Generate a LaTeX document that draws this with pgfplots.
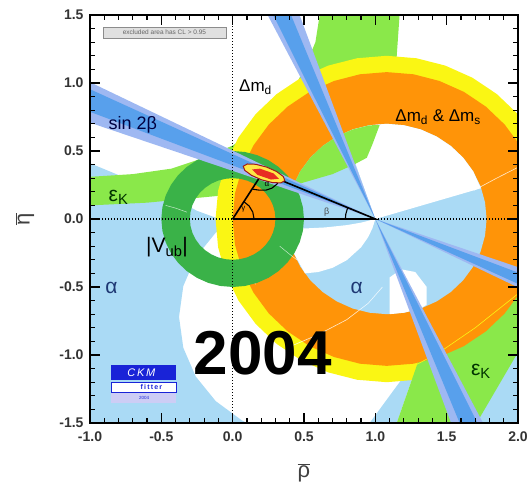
\documentclass[border=0pt]{standalone}
\usepackage{fontspec}
\setmainfont{Liberation Sans}
\usepackage{pgfplots}
\pgfplotsset{compat=1.18}
\definecolor{cLB}{RGB}{170,218,245}
\definecolor{cLG}{RGB}{138,232,74}
\definecolor{cDG}{RGB}{58,178,72}
\definecolor{cY}{RGB}{250,246,20}
\definecolor{cO}{RGB}{255,148,8}
\definecolor{cB1}{RGB}{158,184,242}
\definecolor{cB2}{RGB}{88,160,236}
\definecolor{cFitY}{RGB}{255,232,70}
\definecolor{cFitR}{RGB}{232,45,35}
\definecolor{cFitD}{RGB}{160,25,25}
\definecolor{cLogo}{RGB}{25,35,215}
\definecolor{cLav}{RGB}{205,205,245}
\definecolor{cTxtA}{RGB}{30,55,115}
\begin{document}
\begin{tikzpicture}
\begin{axis}[
  scale only axis, width=428pt, height=408pt,
  xmin=-1, xmax=2, ymin=-1.5, ymax=1.5,
  axis on top,
  xtick={-1,-0.5,0,0.5,1,1.5,2},
  xticklabels={-1.0,-0.5,0.0,0.5,1.0,1.5,2.0},
  ytick={-1.5,-1,-0.5,0,0.5,1,1.5},
  yticklabels={-1.5,-1.0,-0.5,0.0,0.5,1.0,1.5},
  minor tick num=4,
  tick align=inside,
  major tick length=10pt, minor tick length=5pt,
  every tick/.style={black, line width=1.2pt},
  axis line style={line width=1.8pt},
  tick label style={font=\fontsize{14}{14}\selectfont\bfseries, text=black!80},
  xticklabel style={yshift=-5pt},
  yticklabel style={xshift=-3pt},
  label style={font=\fontsize{22}{22}\selectfont, text=black!75},
  xlabel={$\overline{\hbox{ρ}}$},
  ylabel={$\overline{\hbox{η}}$},
  xlabel style={at={(axis description cs:0.5,-0.122)}, anchor=center},
  ylabel style={at={(axis description cs:-0.152,0.5)}, anchor=center},
]
% ---- alpha (light blue) underlay
\addplot[fill=cLB, draw=none] coordinates {(-1,-1.5) (-1,0.41) (-0.77,0.31) (-0.5,0.2) (-0.25,0.06) (-0.12,0.01) (0,0) (-0.119,-0.101) (-0.259,-0.282) (-0.346,-0.493) (-0.376,-0.72) (-0.346,-0.947) (-0.259,-1.158) (-0.119,-1.339) (0.062,-1.479) (0.101,-1.5)} -- cycle;
\addplot[fill=cLB, draw=none] coordinates {(0.96,-1.5) (1.15,-1.5) (1.35,-0.9) (1.24,-1.1)} -- cycle;
\addplot[fill=cLB, draw=none] coordinates {(1.71,-1.5) (2.05,-1.5) (2.05,-0.89) (2,-0.89)} -- cycle;
% ---- epsilon_K upper band
\addplot[fill=cLG, draw=none] coordinates {(-1,0.31) (-0.7,0.33) (-0.43,0.37) (-0.2,0.45) (0,0.54) (0.2,0.68) (0.4,0.9) (0.5,1.1) (0.58,1.3) (0.61,1.5) (1.17,1.5) (1.15,1.2) (1.1,0.9) (1.03,0.68) (0.96,0.5) (0.94,0.43) (0.7,0.33) (0.47,0.26) (0.2,0.2) (-0.2,0.16) (-0.6,0.12) (-1,0.10)} -- cycle;
% ---- Delta m_d (yellow disc)
\addplot[fill=cY, draw=none] coordinates {(2.28,0) (2.262,0.208) (2.208,0.410) (2.119,0.600) (1.999,0.771) (1.851,0.919) (1.68,1.039) (1.49,1.128) (1.288,1.182) (1.08,1.2) (0.872,1.182) (0.67,1.128) (0.48,1.039) (0.309,0.919) (0.161,0.771) (0.041,0.600) (-0.048,0.410) (-0.102,0.208) (-0.12,0) (-0.102,-0.208) (-0.048,-0.410) (0.041,-0.600) (0.161,-0.771) (0.309,-0.919) (0.48,-1.039) (0.67,-1.128) (0.872,-1.182) (1.08,-1.2) (1.288,-1.182) (1.49,-1.128) (1.68,-1.039) (1.851,-0.919) (1.999,-0.771) (2.119,-0.600) (2.208,-0.410) (2.262,-0.208)} -- cycle;
% ---- epsilon_K lower right branch
\addplot[fill=cLG, draw=none] coordinates {(1.15,-1.5) (1.71,-1.5) (2.05,-0.89) (2.05,-0.4) (1.35,-0.9)} -- cycle;
% ---- Delta m_d & Delta m_s (orange disc)
\addplot[fill=cO, draw=none] coordinates {(2.16,0) (2.144,0.188) (2.095,0.369) (2.015,0.540) (1.907,0.694) (1.774,0.827) (1.62,0.935) (1.449,1.015) (1.268,1.064) (1.08,1.08) (0.892,1.064) (0.711,1.015) (0.54,0.935) (0.386,0.827) (0.253,0.694) (0.145,0.540) (0.065,0.369) (0.016,0.188) (0,0) (0.016,-0.188) (0.065,-0.369) (0.145,-0.540) (0.253,-0.694) (0.386,-0.827) (0.54,-0.935) (0.711,-1.015) (0.892,-1.064) (1.08,-1.08) (1.268,-1.064) (1.449,-1.015) (1.62,-0.935) (1.774,-0.827) (1.907,-0.694) (2.015,-0.540) (2.095,-0.369) (2.144,-0.188)} -- cycle;
% ---- interior of the ring (alpha, light blue)
\addplot[fill=cLB, draw=none] coordinates {(1.78,0) (1.769,0.122) (1.738,0.239) (1.686,0.35) (1.616,0.45) (1.53,0.536) (1.43,0.606) (1.319,0.658) (1.202,0.689) (1.08,0.7) (0.958,0.689) (0.841,0.658) (0.73,0.606) (0.63,0.536) (0.544,0.45) (0.474,0.35) (0.422,0.239) (0.391,0.122) (0.38,0) (0.391,-0.122) (0.422,-0.239) (0.474,-0.35) (0.544,-0.45) (0.63,-0.536) (0.73,-0.606) (0.841,-0.658) (0.958,-0.689) (1.08,-0.7) (1.202,-0.689) (1.319,-0.658) (1.43,-0.606) (1.53,-0.536) (1.616,-0.45) (1.686,-0.35) (1.738,-0.239) (1.769,-0.122)} -- cycle;
% ---- white (excluded) parts inside
\addplot[fill=white, draw=none] coordinates {(1,0) (1.74,0.226) (1.686,0.35) (1.616,0.45) (1.53,0.536) (1.43,0.606) (1.319,0.658) (1.202,0.689) (1.08,0.7) (0.958,0.689) (0.841,0.658) (0.785,0.63)} -- cycle;
\addplot[fill=white, draw=none] coordinates {(0.383,-0.061) (0.5,-0.07) (0.65,-0.062) (0.8,-0.045) (0.9,-0.027) (1.0,0.0) (0.98,-0.067) (0.95,-0.133) (0.9,-0.208) (0.8,-0.303) (0.7,-0.359) (0.6,-0.390) (0.507,-0.40) (0.422,-0.239) (0.391,-0.122)} -- cycle;
\addplot[fill=white, draw=none] coordinates {(1.1,-0.43) (1.18,-0.37) (1.28,-0.39) (1.36,-0.5) (1.36,-0.63) (1.319,-0.658) (1.202,-0.689) (1.1,-0.7)} -- cycle;
% ---- epsilon_K inside the ring
\addplot[fill=cLG, draw=none] coordinates {(0.422,0.239) (0.47,0.26) (0.7,0.33) (0.85,0.40) (0.94,0.45) (0.98,0.55) (1.03,0.69) (0.958,0.689) (0.841,0.658) (0.73,0.606) (0.63,0.536) (0.544,0.45) (0.474,0.35)} -- cycle;
% ---- thin contour lines
\addplot[white, line width=0.6pt, opacity=0.8] coordinates {(0.42,-0.93) (0.6,-0.85) (0.8,-0.74) (0.95,-0.62) (1.05,-0.5)};
\addplot[white, line width=0.6pt, opacity=0.8] coordinates {(1.69,0.21) (1.85,0.3) (2,0.38)};
\addplot[cY, line width=0.6pt] coordinates {(1.2,-1.12) (1.45,-0.98) (1.7,-0.8) (2,-0.55)};
\addplot[white, line width=0.5pt, opacity=0.8] coordinates {(-0.42,-0.05) (-0.35,-0.12) (-0.28,-0.18)};
\addplot[white, line width=0.5pt, opacity=0.8] coordinates {(0.08,-0.3) (0.12,-0.4) (0.16,-0.48)};
% ---- |V_ub| ring
\addplot[fill=cDG, draw=none] coordinates {(0,0.5) (-0.0868,0.4924) (-0.171,0.4698) (-0.25,0.433) (-0.3214,0.383) (-0.383,0.3214) (-0.433,0.25) (-0.4698,0.171) (-0.4924,0.0868) (-0.5,0) (-0.4924,-0.0868) (-0.4698,-0.171) (-0.433,-0.25) (-0.383,-0.3214) (-0.3214,-0.383) (-0.25,-0.433) (-0.171,-0.4698) (-0.0868,-0.4924) (0,-0.5) (0.0868,-0.4924) (0.171,-0.4698) (0.25,-0.433) (0.3214,-0.383) (0.383,-0.3214) (0.433,-0.25) (0.4698,-0.171) (0.4924,-0.0868) (0.5,0) (0.4924,0.0868) (0.4698,0.171) (0.433,0.25) (0.383,0.3214) (0.3214,0.383) (0.25,0.433) (0.171,0.4698) (0.0868,0.4924) (0,0.5) (0,0.3) (0.0521,0.2954) (0.1026,0.2819) (0.15,0.2598) (0.1928,0.2298) (0.2298,0.1928) (0.2598,0.15) (0.2819,0.1026) (0.2954,0.0521) (0.3,0) (0.2954,-0.0521) (0.2819,-0.1026) (0.2598,-0.15) (0.2298,-0.1928) (0.1928,-0.2298) (0.15,-0.2598) (0.1026,-0.2819) (0.0521,-0.2954) (0,-0.3) (-0.0521,-0.2954) (-0.1026,-0.2819) (-0.15,-0.2598) (-0.1928,-0.2298) (-0.2298,-0.1928) (-0.2598,-0.15) (-0.2819,-0.1026) (-0.2954,-0.0521) (-0.3,0) (-0.2954,0.0521) (-0.2819,0.1026) (-0.2598,0.15) (-0.2298,0.1928) (-0.1928,0.2298) (-0.15,0.2598) (-0.1026,0.2819) (-0.0521,0.2954) (0,0.3)} -- cycle;
\addplot[white, line width=0.5pt, opacity=0.7] coordinates {(-0.47,0.1) (-0.4,0.08) (-0.32,0.05)};
\addplot[white, line width=0.5pt, opacity=0.7] coordinates {(0.33,-0.2) (0.4,-0.26) (0.45,-0.3)};
% ---- sin 2beta wedges
\addplot[fill=cB1, draw=none] coordinates {(1,0) (-1,1.006) (-1,0.708) (1,0) (2,-0.354) (2,-0.503)} -- cycle;
\addplot[fill=cB2, draw=none] coordinates {(1,0) (-1,0.954) (-1,0.788) (1,0) (2,-0.394) (2,-0.477)} -- cycle;
\addplot[fill=cB1, draw=none] coordinates {(1,0) (0.245,1.5) (0.469,1.5) (1,0) (1.531,-1.5) (1.755,-1.5)} -- cycle;
\addplot[fill=cB2, draw=none] coordinates {(1,0) (0.284,1.5) (0.409,1.5) (1,0) (1.591,-1.5) (1.716,-1.5)} -- cycle;
% ---- dotted axes and triangle
\addplot[black, line width=1.4pt, dash pattern=on 1.4pt off 1.6pt] coordinates {(0,-1.5) (0,1.5)};
\addplot[black, line width=1.4pt, dash pattern=on 1.4pt off 1.6pt] coordinates {(-1,0) (2,0)};
\addplot[black, line width=1.6pt] coordinates {(0,0) (1,0) (0.21,0.34) (0,0)};
\addplot[black, line width=1.1pt] coordinates {(0.15,0) (0.141,0.051) (0.115,0.096) (0.079,0.127)};
\addplot[black, line width=1.1pt] coordinates {(0.14,0.219) (0.187,0.212) (0.233,0.212) (0.275,0.227) (0.31,0.256) (0.33,0.289)};
\addplot[black, line width=1.1pt] coordinates {(0.79,0) (0.793,0.036) (0.803,0.072) (0.807,0.083)};
% ---- fit result
\addplot[fill=cFitY, draw=cFitD, line width=1pt] coordinates {(0.3657,0.282) (0.3548,0.3126) (0.3077,0.3492) (0.2371,0.382) (0.1619,0.4022) (0.1024,0.4044) (0.0743,0.388) (0.0852,0.3574) (0.1323,0.3208) (0.2029,0.288) (0.2781,0.2678) (0.3376,0.2656)} -- cycle;
\addplot[fill=cFitR, draw=none] coordinates {(0.324,0.2958) (0.2853,0.3357) (0.1913,0.3699) (0.136,0.3642) (0.1747,0.3243) (0.2687,0.2901)} -- cycle;
% ---- labels
\node[font=\fontsize{8}{8}\selectfont] at (axis cs:0.075,0.07) {γ};
\node[font=\fontsize{8}{8}\selectfont] at (axis cs:0.24,0.255) {α};
\node[font=\fontsize{9}{9}\selectfont, text=black!70] at (axis cs:0.66,0.05) {β};
\node[font=\fontsize{17}{17}\selectfont] at (axis cs:0.16,0.97) {Δm\textsubscript{d}};
\node[font=\fontsize{17}{17}\selectfont] at (axis cs:1.44,0.75) {Δm\textsubscript{d} \& Δm\textsubscript{s}};
\node[font=\fontsize{18}{18}\selectfont, text=black!75!blue] at (axis cs:-0.7,0.69) {sin 2β};
\node[font=\fontsize{21}{21}\selectfont, text=black!80!green] at (axis cs:-0.8,0.16) {ε\textsubscript{K}};
\node[font=\fontsize{21}{21}\selectfont, text=black!80!green] at (axis cs:1.74,-1.12) {ε\textsubscript{K}};
\node[font=\fontsize{21}{21}\selectfont] at (axis cs:-0.46,-0.21) {|V\textsubscript{ub}|};
\node[font=\fontsize{21}{21}\selectfont, text=cTxtA] at (axis cs:-0.85,-0.51) {α};
\node[font=\fontsize{21}{21}\selectfont, text=cTxtA] at (axis cs:0.87,-0.51) {α};
\node[font=\fontsize{62}{62}\selectfont\bfseries] at (axis cs:0.21,-0.99) {2004};
\node[draw=black!45, fill=black!12, line width=0.6pt, minimum width=123pt, minimum height=11pt, inner sep=0pt, font=\fontsize{6.5}{7}\selectfont, text=black!60] at (axis cs:-0.478,1.37) {excluded area has CL > 0.95};
\fill[cLogo] (axis cs:-0.853,-1.074) rectangle (axis cs:-0.397,-1.184);
\draw[cLogo, fill=white, line width=0.6pt] (axis cs:-0.853,-1.199) rectangle (axis cs:-0.397,-1.272);
\fill[cLav] (axis cs:-0.853,-1.279) rectangle (axis cs:-0.397,-1.353);
\node[font=\fontsize{11}{11}\selectfont\itshape, text=white] at (axis cs:-0.64,-1.129) {C\,K\,M};
\node[font=\fontsize{7}{7}\selectfont\bfseries, text=cLogo] at (axis cs:-0.57,-1.236) {f\,i\,t\,t\,e\,r};
\node[font=\fontsize{4.5}{5}\selectfont, text=cLogo] at (axis cs:-0.62,-1.316) {2004};
\end{axis}
\pgfresetboundingbox
\path[use as bounding box] ([xshift=-90pt,yshift=-62pt]current axis.south west) rectangle ([xshift=13pt,yshift=15pt]current axis.north east);
\end{tikzpicture}
\end{document}
